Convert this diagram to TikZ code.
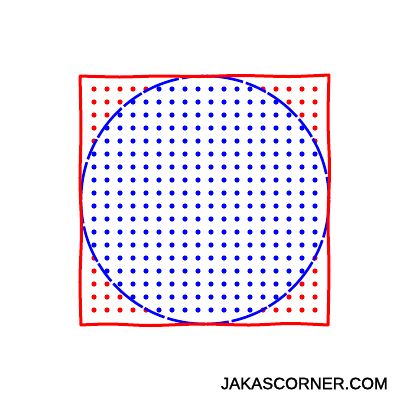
\documentclass[tikz,border=0pt]{standalone}
\usepackage{fontspec}
\setmainfont{Liberation Sans}
\newfontfamily\creditfont[FakeBold=1.5]{Liberation Sans}
\definecolor{pured}{RGB}{255,0,0}
\definecolor{publue}{RGB}{0,0,255}
\tikzset{
  sqline/.style={draw=pured, line width=3pt, line join=round, line cap=round},
  circline/.style={draw=publue, line width=2.6pt, dash pattern=on 38pt off 3pt on 22pt off 2pt},
  credit/.style={font=\creditfont\fontsize{16.5}{16.5}\selectfont, text=black, inner sep=0pt}
}
\begin{document}
\begin{tikzpicture}[x=1pt,y=-1pt]
\useasboundingbox (0,0) rectangle (400,400);
% dots
\foreach \i in {0,...,17}{
  \foreach \j in {0,...,17}{
    \pgfmathsetmacro{\px}{94+13*\i}
    \pgfmathsetmacro{\py}{89+13*\j}
    \pgfmathparse{(((\px-204.5)/10)^2+((\py-199.5)/10)^2 < 153.76) ? 1 : 0}
    \ifnum\pgfmathresult=1
      \fill[publue] (\px,\py) circle (2.6);
    \else
      \fill[pured] (\px,\py) circle (2.6);
    \fi
  }
}
% circle
\draw[circline] (205,200) circle (124);
% wobbly square
\draw[sqline]
  plot[smooth] coordinates {(80,76) (120,77) (160,76) (200,76.5) (240,75.5) (290,76.5) (329,75)}
  -- plot[smooth] coordinates {(329,75) (328,120) (329.5,170) (328,220) (329,270) (328,325)}
  -- plot[smooth] coordinates {(328,325) (290,323.5) (250,325) (200,324) (150,325.5) (110,324) (81,325)}
  -- plot[smooth] coordinates {(81,325) (80,280) (81.5,230) (80,180) (81,130) (80,76)};
\node[credit, anchor=east] (credit) at (388,383.5) {JAKASCORNER.COM};
\end{tikzpicture}
\end{document}
